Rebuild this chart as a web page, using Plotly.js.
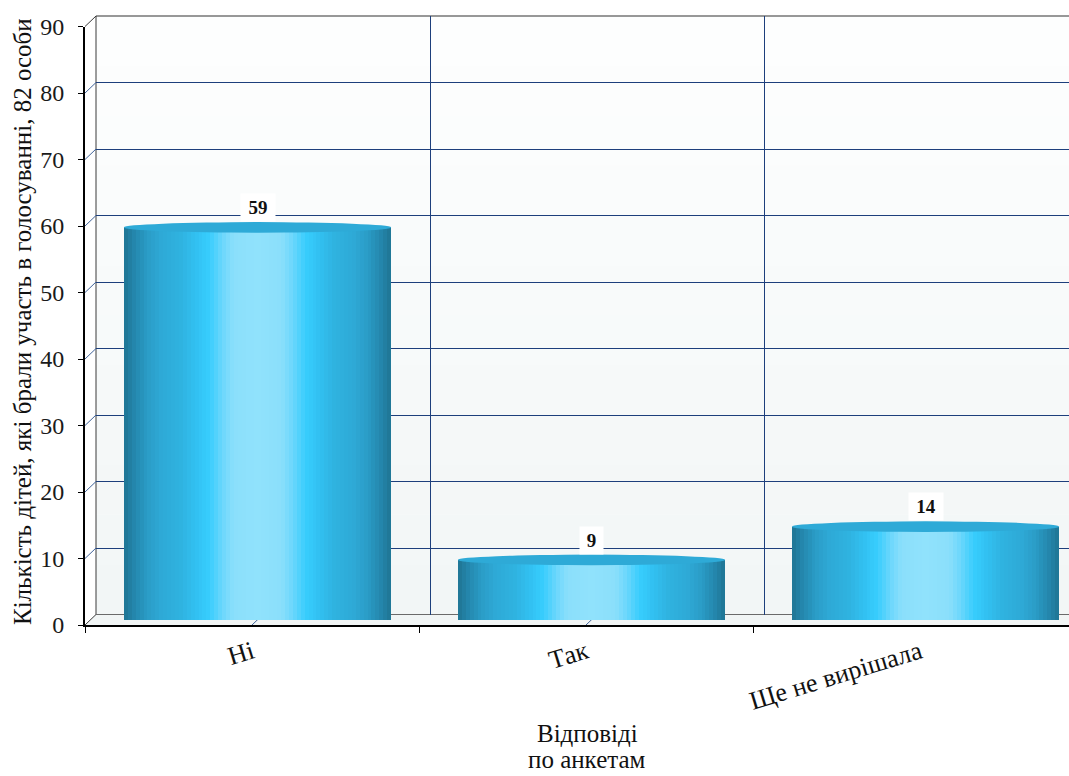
<!DOCTYPE html>
<html><head><meta charset="utf-8">
<script src="https://cdn.plot.ly/plotly-3.0.1.min.js"></script>
<style>html,body{margin:0;padding:0;background:#fff}</style>
</head><body><div id="chart" style="width:1069px;height:776px"></div>
<script>
// ---- data ----
const categories = ["Ні", "Так", "Ще не вирішала"];
const values = [59, 9, 14];
const yTicks = [0, 10, 20, 30, 40, 50, 60, 70, 80, 90];
const yTitle = "Кількість дітей, які брали участь в голосуванні, 82 особи";
const xTitleLines = ["Відповіді", "по анкетам"];

// ---- geometry (layout only) ----
const W = 1069, H = 776, L = 85, R = 0, T = 15, B = 151;
const PW = W - L - R, PH = H - T - B;
const DX = 11, DY = 10.5;          // depth of the pseudo-3D box
const YMAX = 90, S = 6.65, C = 334; // px per unit, px per category
const plotH = YMAX * S;
const BARW = 0.8;
const EH = 5.3;                      // ellipse half height in px
const fx = px => (px - L) / PW;
const fy = py => (T + PH - py) / PH;
const frontY = v => T + PH - v * S;
const backY = v => T + PH - DY - v * S;
const frontX = c => L + (c + 0.5) * C;

// ---- colour helpers ----
function hex2rgb(h){return [1,3,5].map(i=>parseInt(h.substr(i,2),16));}
function mix(a,b,t){const A=hex2rgb(a),Bc=hex2rgb(b);return 'rgb('+A.map((v,i)=>Math.round(v+(Bc[i]-v)*t)).join(',')+')';}
const stops = [[0,'#90e2fc'],[0.18,'#8adffb'],[0.26,'#6cd7fc'],[0.36,'#37cdfd'],[0.46,'#32c1f2'],[0.58,'#2fb2df'],[0.72,'#2ea9d6'],[0.83,'#2a9bc5'],[0.92,'#2488ae'],[1,'#1f7593']];
function colAt(d){for(let i=1;i<stops.length;i++){if(d<=stops[i][0]){const t=(d-stops[i-1][0])/(stops[i][0]-stops[i-1][0]);return mix(stops[i-1][1],stops[i][1],t);}}return stops[stops.length-1][1];}

// ---- traces ----
const traces = [];
traces.push({type:'scatter', x:categories, y:values, xaxis:'x', yaxis:'y', mode:'markers', marker:{opacity:0}, hoverinfo:'skip', showlegend:false});
traces.push({type:'scatter', x:categories.map((c,i)=>i), y:values, xaxis:'x2', yaxis:'y2', mode:'markers', marker:{opacity:0}, hoverinfo:'skip', showlegend:false});
const N = 34;
for (let k = 0; k < N; k++) {
  const d = 1 - k / N;
  traces.push({type:'bar', x:categories, y:values, xaxis:'x3', yaxis:'y3', width:BARW*d,
    marker:{color:colAt(d - 0.5/N), opacity:1, line:{width:0}}, hoverinfo:'skip', showlegend:false});
}

// ---- shapes ----
const shapes = [];
const bands = 12;
for (let b = 0; b < bands; b++) {
  const y0 = backY(0) - (backY(0)-backY(YMAX)) * b / bands;
  const y1 = backY(0) - (backY(0)-backY(YMAX)) * (b+1) / bands;
  shapes.push({type:'rect', xref:'paper', yref:'paper', x0:fx(L+DX), x1:1, y0:fy(y0), y1:fy(y1)+0.001,
    fillcolor:mix('#f2f6f6','#fdfefe', b/(bands-1)), line:{width:0}, layer:'below'});
}
shapes.push({type:'path', xref:'paper', yref:'paper', layer:'below', line:{width:0}, fillcolor:'#f1f5f5',
  path:`M${fx(L)},${fy(frontY(0))} L${fx(L+DX)},${fy(backY(0))} L1,${fy(backY(0))} L1,${fy(frontY(0))} Z`});
shapes.push({type:'line', xref:'paper', yref:'paper', x0:fx(L+DX), x1:fx(L+DX), y0:fy(backY(0)), y1:fy(backY(YMAX)), line:{color:'#3a3a3a', width:1}, layer:'below'});
shapes.push({type:'line', xref:'paper', yref:'paper', x0:fx(L+DX), x1:1, y0:fy(backY(YMAX)), y1:fy(backY(YMAX)), line:{color:'#333', width:1}, layer:'below'});
shapes.push({type:'line', xref:'paper', yref:'paper', x0:fx(L+DX), x1:1, y0:fy(backY(0)), y1:fy(backY(0)), line:{color:'#6a6a6a', width:1.2}, layer:'below'});
yTicks.forEach(v => {
  const edge = (v === 0 || v === YMAX);
  shapes.push({type:'line', xref:'paper', yref:'paper', x0:fx(L), y0:fy(frontY(v)), x1:fx(L+DX), y1:fy(backY(v)),
    line:{color: edge ? '#3a3a3a' : '#41649a', width:1}, layer:'below'});
});
categories.forEach((c, i) => {
  if (i === categories.length - 1) return;
  shapes.push({type:'line', xref:'paper', yref:'paper', x0:fx(frontX(i)), y0:fy(frontY(0)), x1:fx(frontX(i)+DX), y1:fy(backY(0)),
    line:{color:'#41649a', width:1}, layer:'below'});
});
values.forEach((v, i) => {
  shapes.push({type:'circle', xref:'x3', yref:'y3', x0:i-BARW/2, x1:i+BARW/2, y0:v-EH/S, y1:v+EH/S,
    fillcolor:'#2eaad7', line:{width:0}, layer:'above'});
});

// ---- annotations ----
const serif = '"Liberation Serif", "DejaVu Serif", serif';
const annotations = [];
values.forEach((v, i) => {
  const t = String(v);
  annotations.push({xref:'x3', yref:'y3', x:i, y:v, yanchor:'bottom', xanchor:'center', yshift:EH,
    text:'<b>'+t+'</b>', showarrow:false, bgcolor:'#ffffff', borderpad:1, width:11*t.length+10, height:25,
    font:{family:serif, size:19, color:'#111'}});
});
annotations.push({xref:'paper', yref:'paper', x:fx(22), y:fy(322), xanchor:'center', yanchor:'middle',
  textangle:-90, text:yTitle, showarrow:false, font:{family:serif, size:25, color:'#111'}});
xTitleLines.forEach((t, j) => {
  annotations.push({xref:'paper', yref:'paper', x:fx(587), y:fy(733 + 26*j), xanchor:'center', yanchor:'middle',
    text:t, showarrow:false, font:{family:serif, size:25, color:'#111'}});
});

const layout = {
  width:W, height:H, margin:{l:L, r:R, t:T, b:B, pad:0},
  paper_bgcolor:'#ffffff', plot_bgcolor:'rgba(0,0,0,0)',
  barmode:'overlay', bargap:0, showlegend:false, hovermode:false,
  xaxis:{type:'category', categoryorder:'array', categoryarray:categories, domain:[0,1], range:[-0.5, -0.5 + PW/C],
    anchor:'y', showline:true, linecolor:'#000', linewidth:2, ticks:'outside', tickson:'boundaries', ticklen:6,
    tickcolor:'#000', tickwidth:1, tickangle:-17, showgrid:false, zeroline:false,
    tickfont:{family:serif, size:26, color:'#111'}},
  yaxis:{domain:[0, plotH/PH], range:[0, YMAX], anchor:'x', tickvals:yTicks, ticks:'outside', ticklen:5,
    tickcolor:'#000', tickwidth:1, showline:true, linecolor:'#000', linewidth:2, showgrid:false, zeroline:false,
    ticklabelstandoff:9, tickfont:{family:serif, size:24, color:'#1a1a1a'}},
  xaxis2:{domain:[DX/PW, 1], range:[-0.5, -0.5 + (PW-DX)/C], anchor:'y2', tickvals:[0.5, 1.5],
    showticklabels:false, ticks:'', showgrid:true, gridcolor:'#1d3f7c', gridwidth:1, zeroline:false, showline:false},
  yaxis2:{domain:[DY/PH, (DY+plotH)/PH], range:[0, YMAX], anchor:'x2', tickvals:yTicks.slice(1, -1),
    showticklabels:false, ticks:'', showgrid:true, gridcolor:'#1d3f7c', gridwidth:1, zeroline:false, showline:false},
  xaxis3:{type:'category', categoryorder:'array', categoryarray:categories, domain:[DX/2/PW, 1],
    range:[-0.5, -0.5 + (PW-DX/2)/C], anchor:'y3', visible:false, showgrid:false, zeroline:false},
  yaxis3:{domain:[0, (DY/2+plotH)/PH], range:[-(DY/2)/S, YMAX], anchor:'x3', visible:false, showgrid:false, zeroline:false},
  shapes:shapes, annotations:annotations
};

Plotly.newPlot('chart', traces, layout, {displayModeBar:false, staticPlot:true});
</script></body></html>
